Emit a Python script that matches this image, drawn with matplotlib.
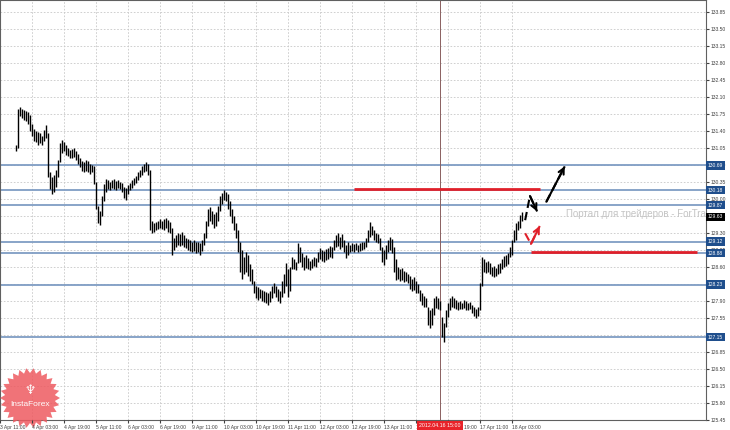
import numpy as np
import matplotlib
matplotlib.use("Agg")
import matplotlib.pyplot as plt
import matplotlib.transforms as mtransforms
from matplotlib.patches import Polygon

plt.rcParams["font.family"] = ["Liberation Sans", "DejaVu Sans"]

# hourly bars, index 0 = 4 Apr 03:00
first_bar = -8
highs = [131.10, 131.85, 131.90, 131.86, 131.84, 131.82, 131.80, 131.72,
         131.55, 131.45, 131.40, 131.38, 131.35, 131.30, 131.42, 131.52,
         131.35, 130.55, 130.45, 130.50, 130.60, 130.80, 131.15, 131.21,
         131.18, 131.10, 131.05, 131.00, 131.02, 131.05, 130.98, 130.92,
         130.85, 130.78, 130.75, 130.80, 130.78, 130.72, 130.70, 130.68,
         130.35, 129.85, 129.75, 130.05, 130.30, 130.40, 130.38, 130.35,
         130.38, 130.40, 130.36, 130.38, 130.35, 130.32, 130.25, 130.22,
         130.28, 130.32, 130.38, 130.42, 130.48, 130.55, 130.60, 130.68,
         130.72, 130.76, 130.72, 130.60, 129.55, 129.50, 129.52, 129.55,
         129.58, 129.55, 129.58, 129.60, 129.56, 129.52, 129.40, 129.20,
         129.25, 129.30, 129.28, 129.32, 129.25, 129.20, 129.18, 129.15,
         129.12, 129.15, 129.10, 129.12, 129.08, 129.15, 129.30, 129.55,
         129.80, 129.83, 129.75, 129.68, 129.72, 129.85, 130.05, 130.12,
         130.18, 130.15, 130.10, 129.95, 129.80, 129.65, 129.50, 129.35,
         129.10, 128.95, 128.80, 128.90, 128.85, 128.65, 128.55, 128.30,
         128.20, 128.18, 128.15, 128.12, 128.10, 128.08, 128.05, 128.10,
         128.20, 128.26, 128.20, 128.15, 128.10, 128.30, 128.45, 128.67,
         128.55, 128.60, 128.80, 128.75, 128.70, 129.09, 129.00, 128.88,
         128.80, 128.85, 128.78, 128.72, 128.75, 128.80, 128.78, 128.90,
         128.98, 128.95, 128.92, 128.96, 128.98, 129.03, 129.00, 129.15,
         129.25, 129.29, 129.22, 129.28, 129.15, 129.05, 129.10, 129.05,
         129.08, 129.06, 129.09, 129.05, 129.08, 129.10, 129.12, 129.20,
         129.35, 129.52, 129.45, 129.35, 129.30, 129.28, 129.20, 129.00,
         128.95, 129.05, 129.15, 129.21, 129.18, 129.00, 128.75, 128.60,
         128.55, 128.58, 128.52, 128.50, 128.45, 128.40, 128.35, 128.38,
         128.30, 128.25, 128.12, 128.05, 128.00, 127.95, 127.77, 127.70,
         127.75, 127.95, 128.00, 127.95, 127.90, 127.56, 127.45, 127.70,
         127.85, 127.95, 128.00, 127.96, 127.91, 127.88, 127.90, 127.86,
         127.91, 127.89, 127.85, 127.88, 127.82, 127.77, 127.72, 127.78,
         128.26, 128.80, 128.75, 128.70, 128.72, 128.68, 128.60, 128.62,
         128.58, 128.65, 128.67, 128.75, 128.82, 128.85, 128.88, 129.00,
         129.15, 129.35, 129.50, 129.55, 129.66, 129.72]
lows = [130.98, 131.05, 131.70, 131.66, 131.62, 131.60, 131.55, 131.40,
        131.30, 131.20, 131.18, 131.12, 131.15, 131.10, 131.20, 131.25,
        130.45, 130.20, 130.10, 130.15, 130.25, 130.45, 130.75, 130.95,
        130.98, 130.90, 130.88, 130.85, 130.84, 130.86, 130.80, 130.72,
        130.65, 130.58, 130.55, 130.58, 130.55, 130.52, 130.55, 130.30,
        129.80, 129.50, 129.46, 129.65, 129.95, 130.15, 130.20, 130.18,
        130.22, 130.20, 130.18, 130.22, 130.20, 130.15, 130.02, 129.98,
        130.10, 130.18, 130.22, 130.28, 130.32, 130.38, 130.45, 130.50,
        130.55, 130.58, 130.50, 129.35, 129.30, 129.32, 129.36, 129.38,
        129.40, 129.38, 129.36, 129.40, 129.32, 129.30, 128.84, 128.95,
        129.00, 129.05, 129.02, 129.05, 129.00, 128.98, 128.95, 128.92,
        128.90, 128.92, 128.88, 128.90, 128.84, 128.92, 129.05, 129.20,
        129.45, 129.55, 129.48, 129.40, 129.45, 129.55, 129.75, 129.90,
        129.98, 129.95, 129.80, 129.65, 129.50, 129.36, 129.20, 128.90,
        128.50, 128.35, 128.45, 128.50, 128.40, 128.30, 128.25, 128.05,
        127.95, 127.92, 127.95, 127.90, 127.88, 127.85, 127.81, 127.88,
        127.95, 128.05, 127.98, 127.90, 127.85, 127.98, 128.05, 128.20,
        127.97, 128.10, 128.55, 128.55, 128.53, 128.67, 128.70, 128.60,
        128.53, 128.58, 128.55, 128.53, 128.58, 128.62, 128.60, 128.70,
        128.75, 128.72, 128.70, 128.74, 128.76, 128.80, 128.78, 128.94,
        129.00, 129.02, 128.96, 129.00, 128.90, 128.78, 128.85, 128.90,
        128.92, 128.90, 128.94, 128.90, 128.92, 128.95, 128.96, 129.00,
        129.10, 129.21, 129.25, 129.15, 129.10, 129.08, 128.95, 128.70,
        128.63, 128.75, 128.90, 128.95, 128.88, 128.50, 128.32, 128.35,
        128.30, 128.32, 128.28, 128.30, 128.26, 128.15, 128.10, 128.12,
        128.06, 128.05, 127.90, 127.82, 127.78, 127.77, 127.40, 127.33,
        127.40, 127.60, 127.75, 127.72, 127.70, 127.15, 127.05, 127.35,
        127.56, 127.70, 127.78, 127.75, 127.72, 127.71, 127.73, 127.72,
        127.74, 127.71, 127.70, 127.72, 127.65, 127.58, 127.54, 127.58,
        127.70, 128.20, 128.50, 128.47, 128.50, 128.45, 128.40, 128.39,
        128.40, 128.45, 128.48, 128.55, 128.60, 128.62, 128.65, 128.80,
        128.85, 129.10, 129.15, 129.35, 129.40, 129.55]

# time axis labels every 16 bars
time_ticks = [-16, 0, 16, 32, 48, 64, 80, 96, 112, 128, 144, 160, 176, 192, 208, 224, 240]
time_labels = ["3 Apr 11:00", "4 Apr 03:00", "4 Apr 19:00", "5 Apr 11:00", "6 Apr 03:00",
               "6 Apr 19:00", "9 Apr 11:00", "10 Apr 03:00", "10 Apr 19:00", "11 Apr 11:00",
               "12 Apr 03:00", "12 Apr 19:00", "13 Apr 11:00", "16 Apr 03:00", "16 Apr 19:00",
               "17 Apr 11:00", "18 Apr 03:00"]
cursor_bar = 204
cursor_label = "2012.04.16 15:00"

price_ticks = [133.85 - 0.35 * k for k in range(25)]

# support / resistance levels
levels = [130.69, 130.18, 129.87, 129.12, 128.88, 128.23, 127.15]
current_price = 129.63

# red levels
red_lines = [(161, 254, 130.20), (249.5, 332.5, 128.90)]
# forecast paths (bar, price)
black_path1 = [(246.5, 129.56), (248.9, 130.06), (252.5, 129.74)]
black_path2 = [(257.1, 129.94), (266.3, 130.67)]
red_path = [(246.5, 129.29), (249.4, 129.07), (253.8, 129.44)]

fig = plt.figure(figsize=(7.3, 4.3), dpi=100)
ax = fig.add_axes([0, 10 / 430, 706 / 730, 420 / 430])
ax.set_xlim(-8.3, 336.9)
ax.set_ylim(125.44, 134.10)

# grid
grid_col = "#c8c8c8"
for t in time_ticks:
    ax.axvline(t, color=grid_col, lw=0.6, ls=(0, (2, 2)), zorder=0)
for p in price_ticks:
    ax.axhline(p, color=grid_col, lw=0.6, ls=(0, (2, 2)), zorder=0)

for lv in levels:
    ax.axhline(lv, color="#7f9dc4", lw=1.3, zorder=1)

idx = np.arange(first_bar, first_bar + len(highs))
ax.vlines(idx, lows, highs, color="black", lw=1.0, zorder=3)

ax.axvline(cursor_bar, color="#8a6060", lw=0.7, zorder=2)

for x0, x1, y in red_lines:
    ax.plot([x0, x1], [y, y], color="#e0202a", lw=2, zorder=4, solid_capstyle="butt")

def dashed(path, color):
    xs, ys = zip(*path)
    ax.plot(xs, ys, color=color, lw=1.5, ls=(0, (4, 2)), zorder=5)
    ax.annotate("", xy=path[-1], xytext=path[-2],
                arrowprops=dict(arrowstyle="->", color=color, lw=1.5,
                                shrinkA=0, shrinkB=0, mutation_scale=10), zorder=5)

dashed(black_path1, "black")
dashed(black_path2, "black")
dashed(red_path, "#e0202a")

ax.text(267, 129.68, "Портал для трейдеров - ForTrader.ru", color="#c4c4c4",
        fontsize=7, va="center", ha="left", zorder=2, clip_on=True)

# axes styling
for s in ax.spines.values():
    s.set_color("#606060")
    s.set_linewidth(0.8)
ax.yaxis.tick_right()
ax.set_yticks(price_ticks)
ax.set_yticklabels(["%.2f" % p for p in price_ticks])
ax.set_xticks(time_ticks)
ax.set_xticklabels(time_labels, ha="left")
ax.tick_params(axis="y", labelsize=3.6, length=2, pad=1.5, colors="#404040")
ax.tick_params(axis="x", labelsize=3.6, length=2, pad=1.5, colors="#404040")
ax.xaxis.set_zorder(30)

yb = mtransforms.blended_transform_factory(ax.transAxes, ax.transData)
for lv in levels:
    ax.text(1.003, lv, "%.2f" % lv, transform=yb, fontsize=3.6, color="white",
            va="center", ha="left", zorder=40,
            bbox=dict(boxstyle="square,pad=0.35", fc="#1f4e8c", ec="none"))
ax.text(1.003, current_price, "%.2f" % current_price, transform=yb, fontsize=3.6,
        color="white", va="center", ha="left", zorder=40,
        bbox=dict(boxstyle="square,pad=0.35", fc="black", ec="none"))

xb = mtransforms.blended_transform_factory(ax.transData, ax.transAxes)
ax.text(cursor_bar, -0.007, cursor_label, transform=xb, fontsize=3.8, color="white",
        va="top", ha="center", zorder=40,
        bbox=dict(boxstyle="square,pad=0.45", fc="#e8232a", ec="none"))

# InstaForex badge in figure pixels
cx, cy = 30 / 730, 1 - 398 / 430
n = 26
ang = np.linspace(0, 2 * np.pi, 2 * n, endpoint=False)
rad = np.where(np.arange(2 * n) % 2 == 0, 30, 25)
pts = np.column_stack([cx + rad * np.cos(ang) / 730, cy + rad * np.sin(ang) / 430])
ax.add_patch(Polygon(pts, closed=True, transform=fig.transFigure, clip_on=False,
                     fc="#ee5a60", ec="none", alpha=0.85, zorder=20))
ax.text(cx, cy - 7 / 430, "InstaForex", color="white", fontsize=6, transform=fig.transFigure,
        ha="center", va="center", zorder=21)
ax.text(cx, cy + 8 / 430, "\u2646", color="white", fontsize=9, family="DejaVu Sans",
        transform=fig.transFigure, ha="center", va="center", zorder=21)

fig.savefig("out.png", dpi=100)
